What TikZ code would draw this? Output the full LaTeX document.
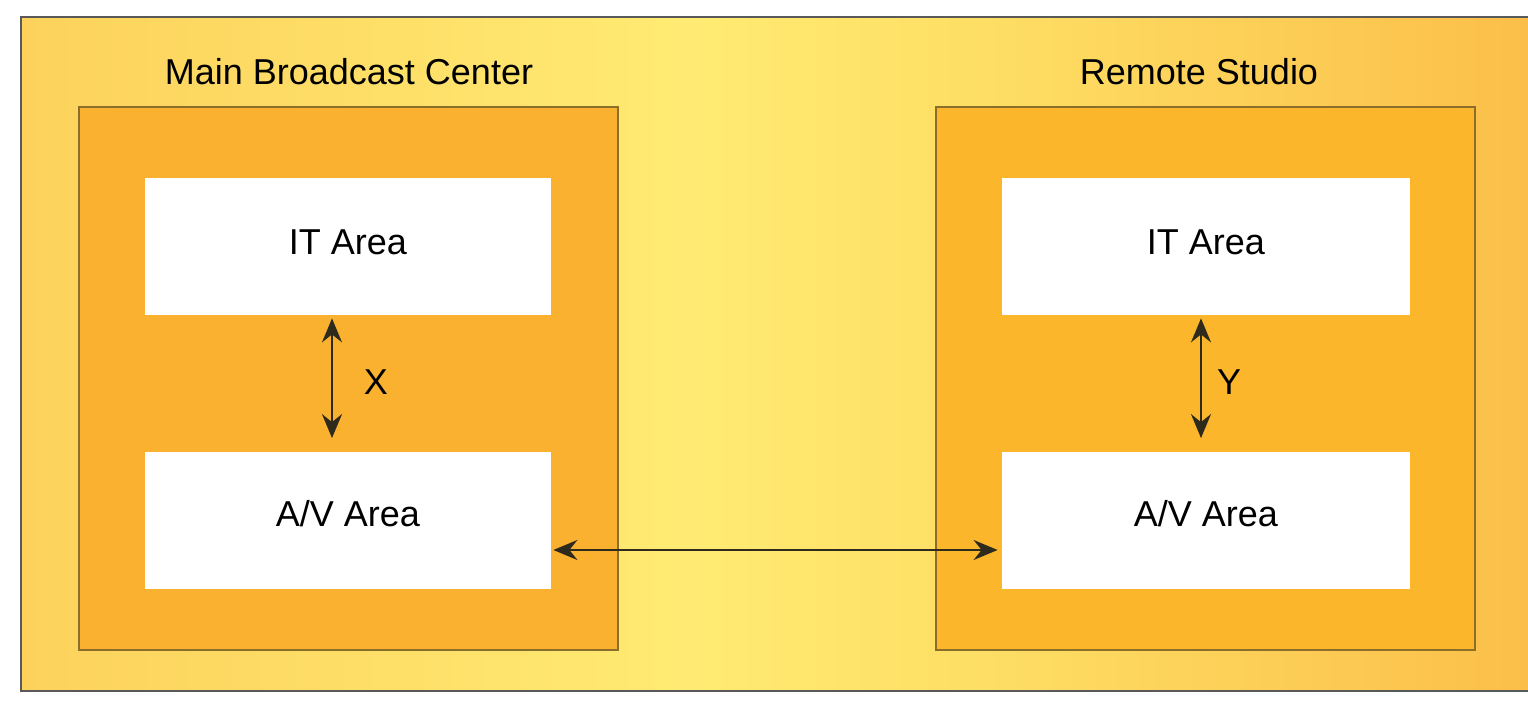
\documentclass[tikz,border=0pt]{standalone}
\usepackage{fontspec}
\setmainfont{Liberation Sans}
\usetikzlibrary{arrows.meta}
\definecolor{bgL}{HTML}{FCD25C}
\definecolor{bgLM}{HTML}{FEDF68}
\definecolor{bgM}{HTML}{FFEB73}
\definecolor{bgMR}{HTML}{FEDC62}
\definecolor{bgR}{HTML}{FBBE48}
\definecolor{innerC}{HTML}{F9B12F}
\definecolor{innerR}{HTML}{FBB62C}
\definecolor{edgeC}{HTML}{8A6E2A}
\definecolor{arrC}{HTML}{2E2A1C}
\pgfdeclarehorizontalshading{bgshade}{100bp}{color(0bp)=(bgL); color(25bp)=(bgL); color(37bp)=(bgLM); color(47bp)=(bgM); color(58bp)=(bgMR); color(75bp)=(bgR); color(100bp)=(bgR)}
\tikzset{
  area/.style={draw=none, fill=white, minimum width=203pt, minimum height=68.5pt, inner sep=0pt, font=\fontsize{18}{20}\selectfont, text height=12pt, text depth=4pt},
  avarea/.style={area, text height=12pt, text depth=6.5pt},
  site/.style={draw=edgeC, line width=0.6pt, fill=innerC, minimum width=269.5pt, minimum height=271.5pt, inner sep=0pt},
  title/.style={font=\fontsize{18}{20}\selectfont, inner sep=0pt},
  lbl/.style={font=\fontsize{18}{20}\selectfont, inner sep=0pt},
  arr/.style={draw=arrC, line width=1pt, {Stealth[length=12pt,width=10pt,inset=4pt]}-{Stealth[length=12pt,width=10pt,inset=4pt]}}
}
\begin{document}
\begin{tikzpicture}[x=0.5pt,y=-0.5pt]
\useasboundingbox (0,0) rectangle (1528,710);
\fill[white] (0,0) rectangle (1528,710);
\shade[shading=bgshade] (21,17) rectangle (1545,691);
\draw[gray!70!black, line width=0.6pt] (1545,17) -- (21,17) -- (21,691) -- (1545,691);
\node[site] (lsite) at (348.5,378.5) {};
\node[site, fill=innerR] (rsite) at (1205.5,378.5) {};
\node[title] (ltitle) at (349,72) {Main Broadcast Center};
\node[title] (rtitle) at (1199,72) {Remote Studio};
\node[area] (lit) at (348,246.5) {IT Area};
\node[avarea] (lav) at (348,521) {A/V Area};
\node[area, minimum width=204pt] (rit) at (1206,246.5) {IT Area};
\node[avarea, minimum width=204pt] (rav) at (1206,521) {A/V Area};
\draw[arr, shorten <=1.5pt, shorten >=7pt] ([xshift=-8pt]lit.south) -- ([xshift=-8pt]lav.north);
\draw[arr, shorten <=1.5pt, shorten >=7pt] ([xshift=-2.5pt]rit.south) -- ([xshift=-2.5pt]rav.north);
\node[lbl] (xl) at (376,382) {X};
\node[lbl] (yl) at (1229,382) {Y};
\draw[arr, shorten <=1pt, shorten >=2pt] ([yshift=-14.5pt]lav.east) -- ([yshift=-14.5pt]rav.west);
\end{tikzpicture}
\end{document}
